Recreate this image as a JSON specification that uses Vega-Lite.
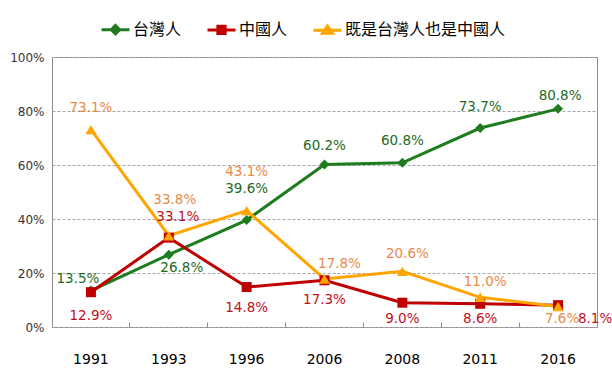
{
  "$schema": "https://vega.github.io/schema/vega-lite/v6.json",
  "width": 545,
  "height": 270,
  "autosize": {"type": "none"},
  "padding": {"left": 52, "top": 57, "right": 15, "bottom": 47},
  "background": "white",
  "config": {
    "view": {"stroke": "#8c8c8c", "strokeWidth": 1},
    "font": "DejaVu Sans"
  },
  "data": {
    "values": [
      {"year": "1991", "series": "台灣人", "value": 0.135},
      {"year": "1993", "series": "台灣人", "value": 0.268},
      {"year": "1996", "series": "台灣人", "value": 0.396},
      {"year": "2006", "series": "台灣人", "value": 0.602},
      {"year": "2008", "series": "台灣人", "value": 0.608},
      {"year": "2011", "series": "台灣人", "value": 0.737},
      {"year": "2016", "series": "台灣人", "value": 0.808},
      {"year": "1991", "series": "中國人", "value": 0.129},
      {"year": "1993", "series": "中國人", "value": 0.331},
      {"year": "1996", "series": "中國人", "value": 0.148},
      {"year": "2006", "series": "中國人", "value": 0.173},
      {"year": "2008", "series": "中國人", "value": 0.090},
      {"year": "2011", "series": "中國人", "value": 0.086},
      {"year": "2016", "series": "中國人", "value": 0.081},
      {"year": "1991", "series": "既是台灣人也是中國人", "value": 0.731},
      {"year": "1993", "series": "既是台灣人也是中國人", "value": 0.338},
      {"year": "1996", "series": "既是台灣人也是中國人", "value": 0.431},
      {"year": "2006", "series": "既是台灣人也是中國人", "value": 0.178},
      {"year": "2008", "series": "既是台灣人也是中國人", "value": 0.206},
      {"year": "2011", "series": "既是台灣人也是中國人", "value": 0.110},
      {"year": "2016", "series": "既是台灣人也是中國人", "value": 0.076}
    ]
  },
  "resolve": {"axis": {"x": "independent"}},
  "layer": [
    {
      "mark": {"type": "line", "strokeWidth": 3},
      "encoding": {
        "x": {
          "field": "year", "type": "ordinal",
          "scale": {"type": "band", "paddingInner": 0, "paddingOuter": 0, "domain": ["1991","1993","1996","2006","2008","2011","2016"]},
          "axis": {"orient": "bottom", "title": null, "domain": false, "ticks": false, "grid": false, "labelAngle": 0, "labelFontSize": 14, "labelColor": "#000000", "labelPadding": 25, "labelFont": "DejaVu Sans"}
        },
        "y": {
          "field": "value", "type": "quantitative",
          "scale": {"domain": [0, 1]},
          "axis": {"title": null, "format": ".0%", "values": [0, 0.2, 0.4, 0.6, 0.8, 1], "domain": false, "ticks": false, "labelFontSize": 12, "labelColor": "#333333", "labelPadding": 8, "gridColor": "#a6a6a6", "gridDash": [3, 2], "gridWidth": 1}
        },
        "color": {
          "field": "series", "type": "nominal",
          "scale": {"domain": ["台灣人", "中國人", "既是台灣人也是中國人"], "range": ["#1e7b1e", "#c00000", "#ffa500"]},
          "legend": {
            "title": null, "orient": "none", "direction": "horizontal",
            "legendX": 48, "legendY": -43,
            "labelFont": "Noto Sans CJK TC", "labelFontSize": 16, "labelColor": "#000000", "labelLimit": 400,
            "symbolSize": 784, "columnPadding": 19, "labelOffset": 2,
            "symbolType": "M-1,0L1,0",
            "symbolStrokeWidth": 3,
            "encode": {
              "symbols": {
                "update": {
                  "shape": {"signal": "datum.value === '台灣人' ? 'M-1,0L1,0M0,-0.3L0.3,0L0,0.3L-0.3,0Z' : datum.value === '中國人' ? 'M-1,0L1,0M-0.26,-0.26L0.26,-0.26L0.26,0.26L-0.26,0.26Z' : 'M-1,0L1,0M0,-0.3L0.36,0.22L-0.36,0.22Z'"},
                  "fill": {"scale": "color", "field": "value"},
                  "stroke": {"scale": "color", "field": "value"},
                  "strokeWidth": {"value": 3},
                  "opacity": {"value": 1}
                }
              }
            }
          }
        }
      }
    },
    {
      "transform": [{"filter": "datum.series === '台灣人'"}],
      "mark": {"type": "point", "filled": true, "opacity": 1, "shape": "diamond", "size": 100},
      "encoding": {
        "x": {
          "field": "year", "type": "ordinal",
          "axis": {"orient": "bottom", "title": null, "domain": false, "labels": false, "ticks": true, "tickSize": 5, "tickColor": "#8c8c8c", "offset": -5, "bandPosition": 0, "grid": false}
        },
        "y": {"field": "value", "type": "quantitative"},
        "color": {"field": "series", "type": "nominal"}
      }
    },
    {
      "transform": [{"filter": "datum.series === '中國人'"}],
      "mark": {"type": "point", "filled": true, "opacity": 1, "shape": "square", "size": 100},
      "encoding": {
        "x": {"field": "year", "type": "ordinal", "axis": null},
        "y": {"field": "value", "type": "quantitative"},
        "color": {"field": "series", "type": "nominal"}
      }
    },
    {
      "transform": [{"filter": "datum.series === '既是台灣人也是中國人'"}],
      "mark": {"type": "point", "filled": true, "opacity": 1, "shape": "triangle-up", "size": 120},
      "encoding": {
        "x": {"field": "year", "type": "ordinal", "axis": null},
        "y": {"field": "value", "type": "quantitative"},
        "color": {"field": "series", "type": "nominal"}
      }
    },
    {
      "transform": [{"filter": "datum.series === '台灣人'"}],
      "mark": {"type": "text", "fontSize": 13.5, "color": "#1e6b1e",
        "dx": {"expr": "[-13,13,0,0,0,0,2][indexof(['1991','1993','1996','2006','2008','2011','2016'], datum.year)]"},
        "dy": {"expr": "[-12,13,-31,-18,-22,-21,-13][indexof(['1991','1993','1996','2006','2008','2011','2016'], datum.year)]"}},
      "encoding": {
        "x": {"field": "year", "type": "ordinal", "axis": null},
        "y": {"field": "value", "type": "quantitative"},
        "text": {"field": "value", "type": "quantitative", "format": ".1%"}
      }
    },
    {
      "transform": [{"filter": "datum.series === '中國人'"}],
      "mark": {"type": "text", "fontSize": 13.5, "color": "#c0101e",
        "dx": {"expr": "[0,9,0,0,0,0,37][indexof(['1991','1993','1996','2006','2008','2011','2016'], datum.year)]"},
        "dy": {"expr": "[24,-21,21,20,16,15,14][indexof(['1991','1993','1996','2006','2008','2011','2016'], datum.year)]"}},
      "encoding": {
        "x": {"field": "year", "type": "ordinal", "axis": null},
        "y": {"field": "value", "type": "quantitative"},
        "text": {"field": "value", "type": "quantitative", "format": ".1%"}
      }
    },
    {
      "transform": [{"filter": "datum.series === '既是台灣人也是中國人'"}],
      "mark": {"type": "text", "fontSize": 13.5, "color": "#e8894a",
        "dx": {"expr": "[0,6,0,15,5,5,4][indexof(['1991','1993','1996','2006','2008','2011','2016'], datum.year)]"},
        "dy": {"expr": "[-22,-36,-39,-15,-17,-15,13][indexof(['1991','1993','1996','2006','2008','2011','2016'], datum.year)]"}},
      "encoding": {
        "x": {"field": "year", "type": "ordinal", "axis": null},
        "y": {"field": "value", "type": "quantitative"},
        "text": {"field": "value", "type": "quantitative", "format": ".1%"}
      }
    }
  ]
}
